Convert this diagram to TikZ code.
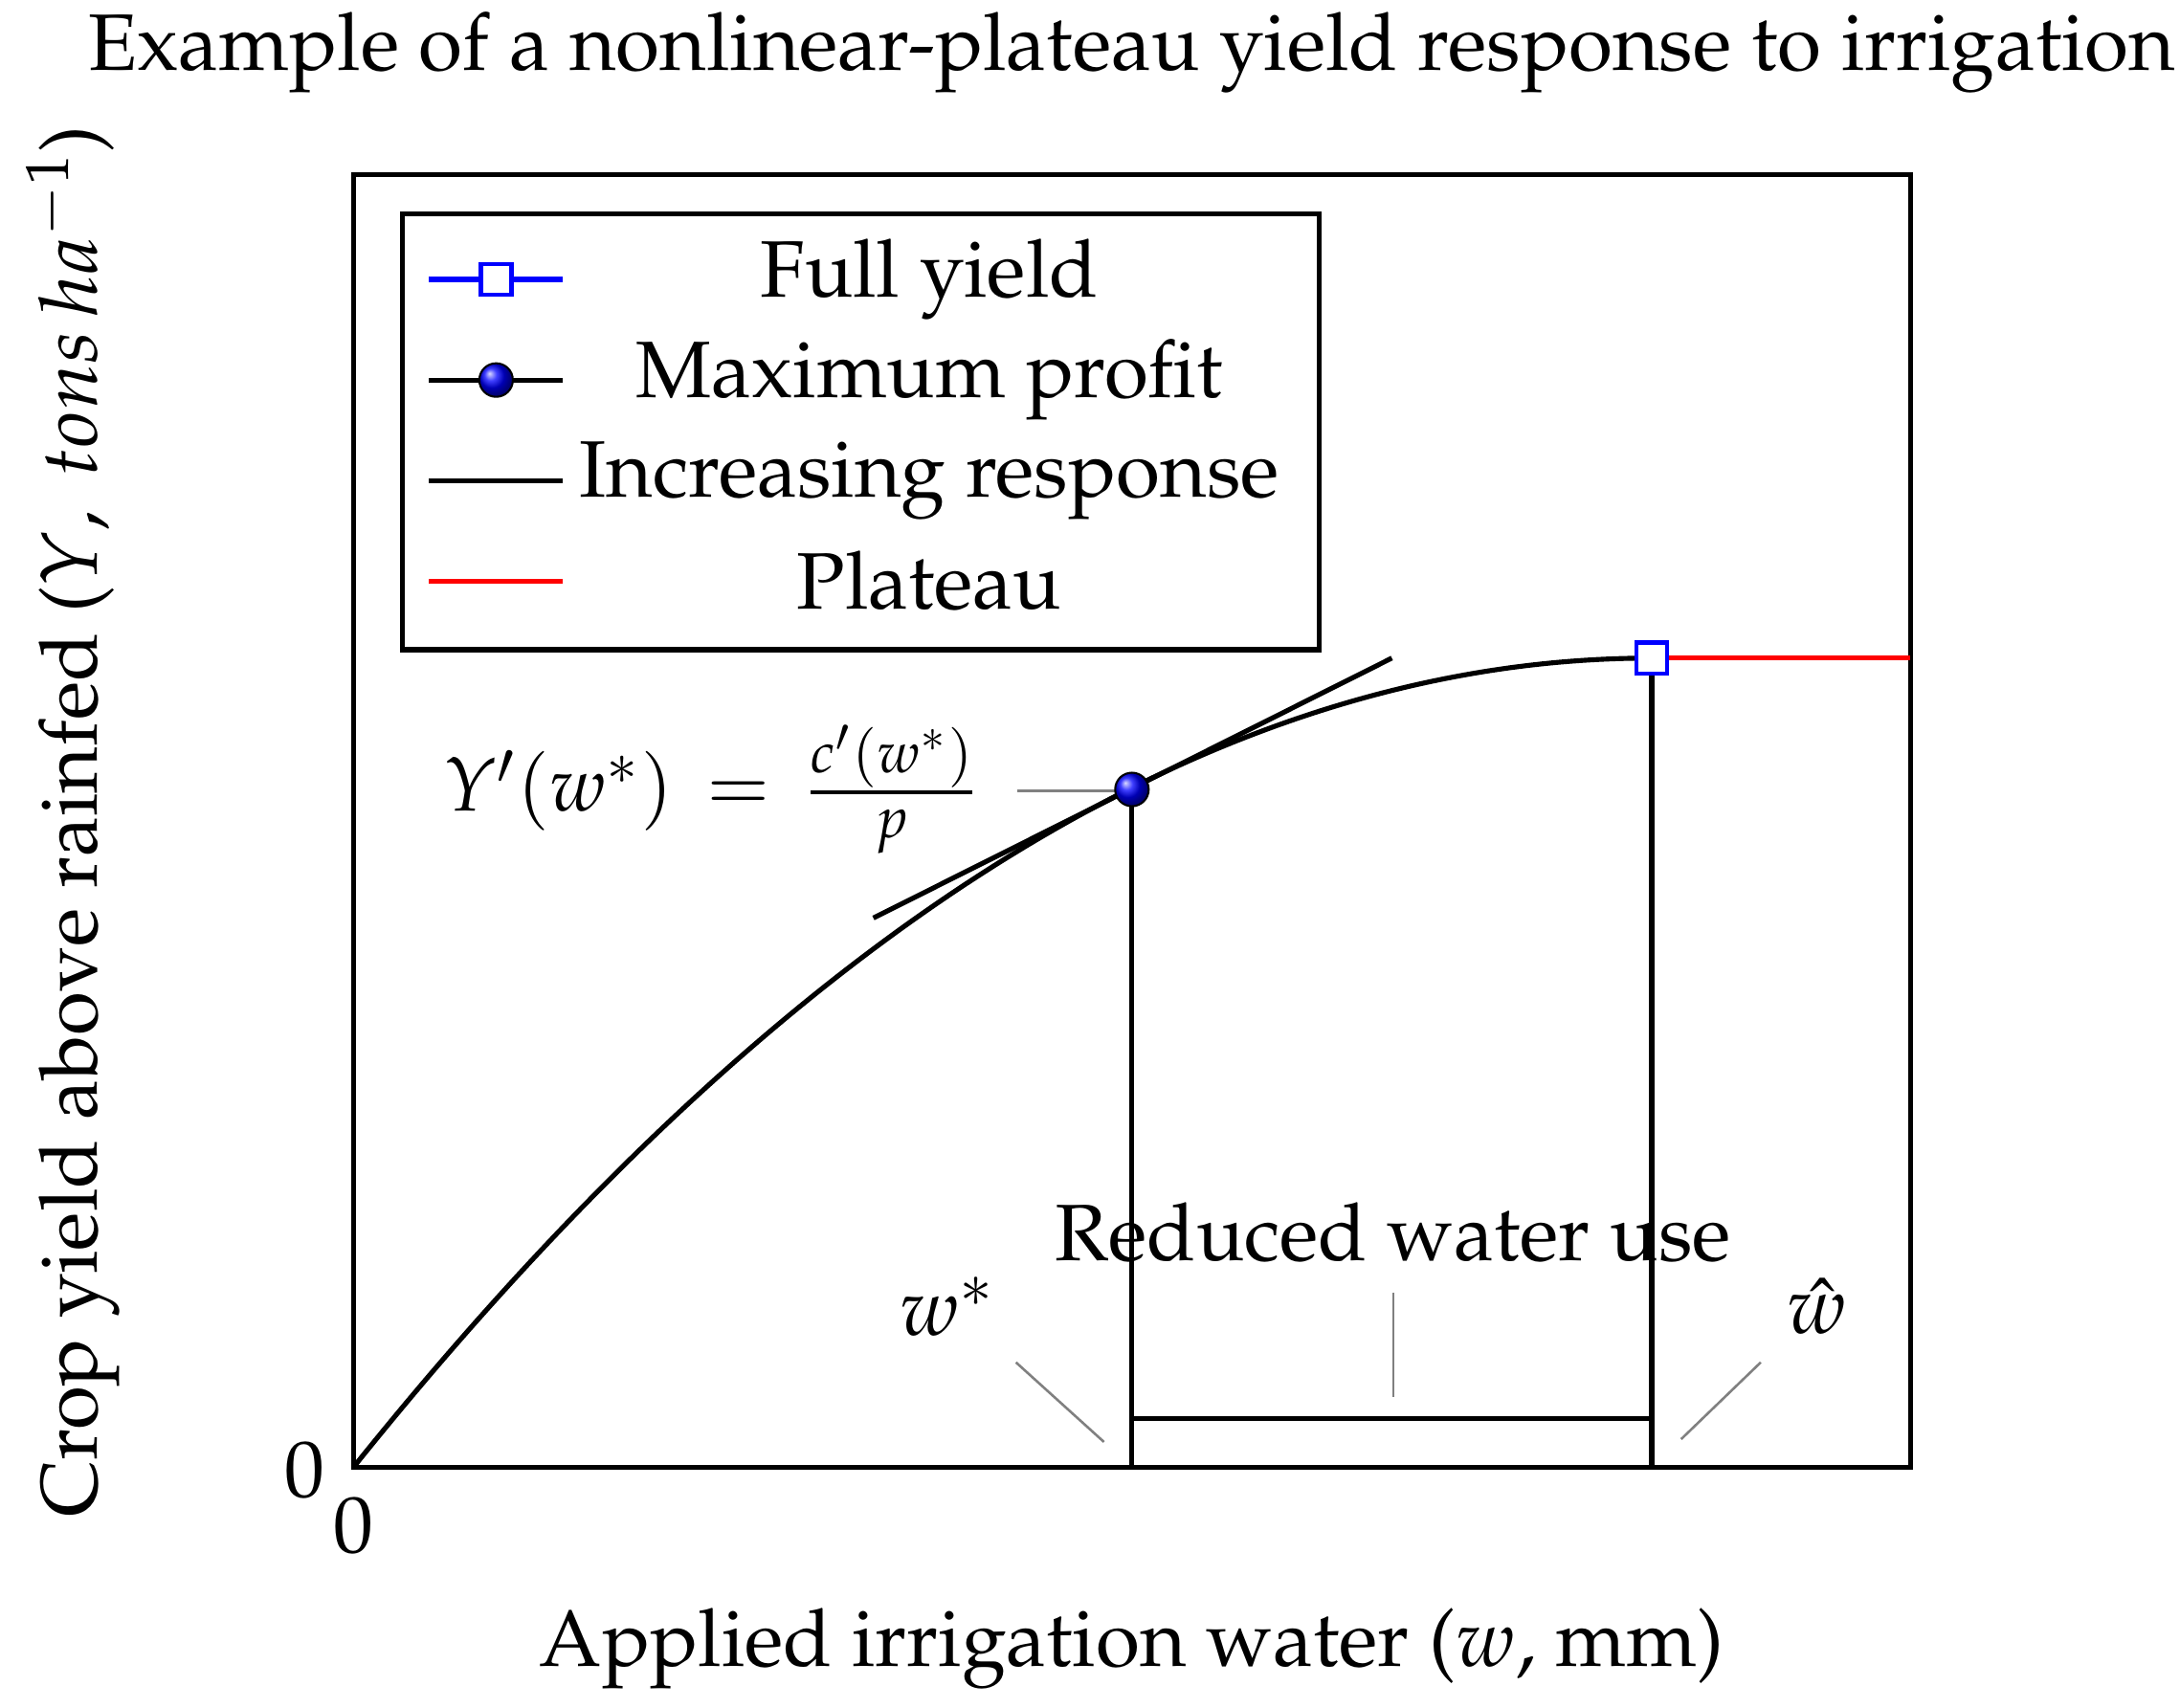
\documentclass[tikz,border=0pt]{standalone}
\usepackage[T1]{fontenc}
\usepackage{mathpazo}
\tikzset{
 lbl/.style={font=\fontsize{16.3}{19}\selectfont, inner sep=0pt},
 eqlbl/.style={font=\fontsize{15.5}{19}\selectfont, inner sep=0pt},
 grayl/.style={draw=gray, line width=0.5pt},
 blk/.style={draw=black, line width=1pt},
 ball/.style={circle, inner sep=0pt, minimum size=0.24cm, ball color=blue, draw=black},
 sq/.style={rectangle, inner sep=0pt, minimum size=0.22cm, draw=blue, line width=0.9pt, fill=white}
}
\begin{document}
\begin{tikzpicture}[x=0.01cm,y=-0.01cm]
\useasboundingbox (0,0) rectangle (1560,1222);
\node[lbl] (title) at (810,38) {Example of a nonlinear-plateau yield response to irrigation};
\draw[blk] (253,125) rectangle (1367,1050);
% curve
\coordinate (o) at (253,1050);
\coordinate (fy) at (1182,471);
\coordinate (mp) at (810,565);
\draw[blk] (o) .. controls (562.7,664) and (872.3,471) .. (fy);
\draw[draw=red, line width=1pt] (fy) -- (1367,471);
\coordinate (t1) at (625,657); \coordinate (t2) at (996,471);
\draw[blk] (t1) -- (t2);
\draw[blk] (mp) -- (810,1050);
\draw[blk] (fy) -- (1182,1050);
\draw[blk] (810,1015) -- (1182,1015);
% labels
\node[lbl] (ws) at (678,935) {$w^*$};
\node[lbl] (wh) at (1300,935) {$\hat{w}$};
\node[lbl] (rwu) at (997,882) {Reduced water use};
\node[eqlbl] (eq) at (509,565) {$Y'(w^*)\,=\,\frac{c'(w^*)}{p}$};
\draw[grayl] (727,975) -- (790,1032);
\draw[grayl] (1260,975) -- (1203,1030);
\draw[grayl] (997,925) -- (997,1000);
\draw[grayl] (728,566) -- (800,566);
\node[sq] (fyn) at (fy) {};
\node[ball] (mpn) at (mp) {};
\node[lbl] (z1) at (218,1052) {0};
\node[lbl] (z2) at (253,1092) {0};
\node[lbl] (xl) at (810,1180) {Applied irrigation water ($w,$\ mm)};
\node[lbl, rotate=90] (yl) at (52,588) {Crop yield above rainfed ($Y,\ tons\,ha^{-1}$)};
% legend
\draw[blk, fill=white] (288,153) rectangle (944,465);
\draw[draw=blue, line width=1pt] (307,200) -- (403,200);
\node[sq] (l1) at (355,200) {};
\node[lbl] at (665,200) {Full yield};
\draw[blk] (307,272) -- (403,272);
\node[ball] (l2) at (355,272) {};
\node[lbl] at (665,272) {Maximum profit};
\draw[blk] (307,344) -- (403,344);
\node[lbl] at (665,344) {Increasing response};
\draw[draw=red, line width=1pt] (307,416) -- (403,416);
\node[lbl] at (665,416) {Plateau};
\end{tikzpicture}
\end{document}
